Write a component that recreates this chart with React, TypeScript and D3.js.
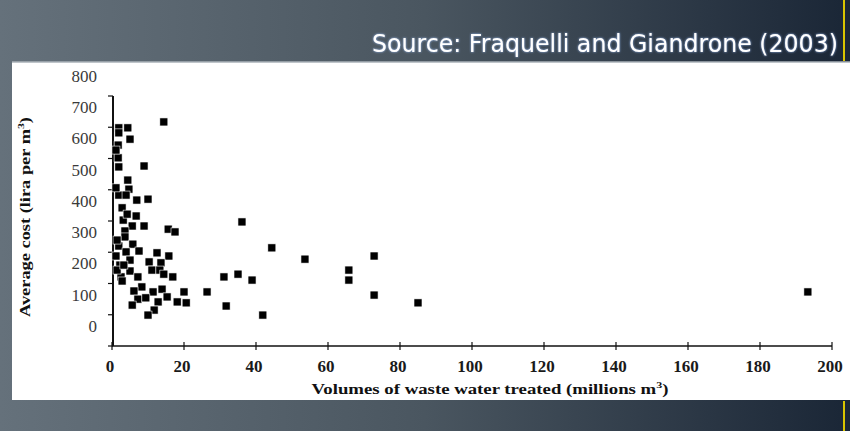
import * as d3 from "d3";

// volumes treated (millions m3) and average cost (lira per m3)
const volumes = [
  14.4, 1.9, 4.4, 1.9, 5.0, 1.7, 1.7, 1.9, 8.9, 4.4, 4.7, 1.9, 3.9, 6.9, 10.0, 2.8,
  6.7, 3.1, 5.6, 8.9, 3.6, 15.6, 17.5, 36.1, 3.6, 1.9, 5.8, 7.5, 44.4, 3.9, 5.0, 12.5,
  15.8, 10.3, 2.2, 13.6, 5.0, 11.1, 13.3, 14.4, 16.9, 2.5, 7.2, 2.8, 31.1, 35.0, 38.9, 8.3,
  6.1, 11.4, 13.9, 20.0, 26.4, 7.2, 9.4, 5.6, 12.8, 15.3, 18.1, 20.6, 31.7, 11.7, 10.0, 41.9,
  53.6, 65.8, 65.8, 72.8, 72.8, 85.0, 193.3, 1.1, 1.1, 1.4, 1.1, 1.4, 3.3, 4.2,
];
const costs = [
  653, 634, 634, 618, 598, 579, 538, 509, 512, 467, 438, 419, 419, 403, 406, 378,
  352, 339, 320, 320, 304, 310, 301, 333, 285, 256, 262, 240, 250, 237, 211, 234,
  224, 205, 195, 202, 176, 179, 179, 166, 157, 157, 157, 144, 157, 166, 147, 125,
  112, 109, 118, 109, 109, 86, 90, 67, 77, 93, 77, 74, 64, 51, 35, 35,
  214, 179, 147, 224, 99, 74, 109, 563, 442, 275, 224, 179, 195, 358,
];

const xTicks = [0, 20, 40, 60, 80, 100, 120, 140, 160, 180, 200];
const yTicks = [0, 100, 200, 300, 400, 500, 600, 700, 800];

const sourceText = "Source: Fraquelli and Giandrone (2003)";

const W = 850;
const H = 431;

const x = d3.scaleLinear().domain([0, 200]).range([112, 832]);
const y = d3.scaleLinear().domain([0, 800]).range([326, 76]);
// in the scanned figure the tick marks sit lower than their labels
const tickShift = 20;
const axisY = y(0) + tickShift;

const serif = "'Liberation Serif', 'Times New Roman', serif";

export default function App() {
  return (
    <svg
      width={W}
      height={H}
      viewBox={`0 0 ${W} ${H}`}
      style={{ position: "absolute", left: 0, top: 0, display: "block" }}
    >
      <defs>
        <linearGradient id="band" x1="0" x2="1" y1="0" y2="0">
          <stop offset="0" stopColor="#65717b" />
          <stop offset="0.5" stopColor="#4a5660" />
          <stop offset="1" stopColor="#1a2636" />
        </linearGradient>
        <filter id="glow" x="-5%" y="-30%" width="110%" height="160%">
          <feDropShadow dx="0" dy="0" stdDeviation="0.8" floodColor="#9fc3ff" floodOpacity="0.9" />
        </filter>
      </defs>

      <rect x={0} y={0} width={W} height={H} fill="url(#band)" />
      <rect x={12} y={62} width={W - 12} height={338} fill="#ffffff" />
      <line x1={12} x2={W} y1={62} y2={62} stroke="#aab2b8" strokeWidth={1.5} />
      <line x1={844} x2={844} y1={0} y2={61} stroke="#d8c400" strokeWidth={2} />
      <line x1={844} x2={844} y1={401} y2={H} stroke="#d8c400" strokeWidth={2} />

      <text
        x={838}
        y={52}
        textAnchor="end"
        fill="#ffffff"
        fontFamily="'DejaVu Sans', sans-serif"
        fontSize={24}
        textLength={466}
        lengthAdjust="spacingAndGlyphs"
        filter="url(#glow)"
      >
        {sourceText}
      </text>

      {/* axes */}
      <line x1={113} x2={113} y1={y(800) + tickShift} y2={axisY} stroke="#111" strokeWidth={2} />
      <line x1={x(0)} x2={x(200)} y1={axisY} y2={axisY} stroke="#111" strokeWidth={1.6} />

      {yTicks.map((t) => (
        <g key={`y${t}`}>
          <line x1={108} x2={113} y1={y(t) + tickShift} y2={y(t) + tickShift} stroke="#111" strokeWidth={1.2} />
          <text
            x={97}
            y={y(t)}
            dy="0.35em"
            textAnchor="end"
            fontFamily={serif}
            fontSize={17}
            fill="#3a3a3a"
          >
            {t}
          </text>
        </g>
      ))}

      {xTicks.map((t) => (
        <g key={`x${t}`}>
          <line x1={x(t)} x2={x(t)} y1={axisY - 4} y2={axisY + 4} stroke="#111" strokeWidth={1.2} />
          <text
            x={x(t) - 2}
            y={366}
            dy="0.35em"
            textAnchor="middle"
            fontFamily={serif}
            fontWeight="bold"
            fontSize={17}
            fill="#1a1a1a"
          >
            {t}
          </text>
        </g>
      ))}

      <text
        x={490}
        y={389}
        dy="0.35em"
        textAnchor="middle"
        fontFamily={serif}
        fontWeight="bold"
        fontSize={14}
        fill="#111"
        textLength={357}
        lengthAdjust="spacingAndGlyphs"
      >
        Volumes of waste water treated (millions m<tspan dy={-6} fontSize={9}>3</tspan>
        <tspan dy={6}>)</tspan>
      </text>

      <text
        transform="translate(25,217) rotate(-90)"
        textAnchor="middle"
        dy="0.35em"
        fontFamily={serif}
        fontWeight="bold"
        fontSize={14}
        fill="#111"
        textLength={200}
        lengthAdjust="spacingAndGlyphs"
      >
        Average cost (lira per m<tspan dy={-6} fontSize={9}>3</tspan>
        <tspan dy={6}>)</tspan>
      </text>

      {volumes.map((v, i) => (
        <rect
          key={i}
          x={x(v) - 4}
          y={y(costs[i]) - 4}
          width={8}
          height={8}
          fill="#000"
          stroke="#fff"
          strokeWidth={0.6}
        />
      ))}
    </svg>
  );
}
